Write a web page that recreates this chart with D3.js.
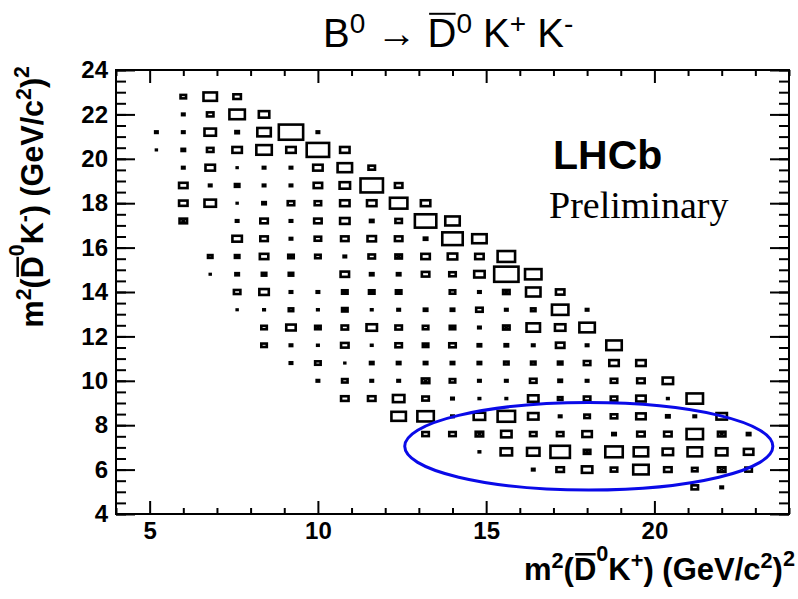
<!DOCTYPE html>
<html>
<head>
<meta charset="utf-8">
<script src="https://cdn.jsdelivr.net/npm/d3@7"></script>
<style>
  html, body { margin: 0; padding: 0; background: #fff; }
  svg { display: block; }
</style>
</head>
<body>
<div id="chart"></div>
<script>
// bin width of the 2D histogram (GeV^2/c^4), both axes
const binW = 0.8;

// [m2(D0bar K+), m2(D0bar K-), weighted content] at bin centres
// negative contents are drawn with a cross
const cells = [
  [6.0, 22.8, 0.41], [6.8, 22.8, 2.45], [7.6, 22.8, 0.76],
  [6.0, 22.0, 0.08], [6.8, 22.0, 0.57], [7.6, 22.0, 3.23], [8.4, 22.0, 1.48],
  [5.2, 21.2, 0.08], [6.0, 21.2, 0.08], [6.8, 21.2, 1.78], [7.6, 21.2, -0.16], [8.4, 21.2, 2.45], [9.2, 21.2, 8.00], [10.0, 21.2, 0.08],
  [5.2, 20.4, 0.01], [6.0, 20.4, -0.16], [6.8, 20.4, 0.57], [7.6, 20.4, 1.21], [8.4, 20.4, 3.23], [9.2, 20.4, 1.21], [10.0, 20.4, 6.80], [10.8, 20.4, 1.21],
  [6.0, 19.6, 0.08], [6.8, 19.6, 1.21], [7.6, 19.6, 0.01], [8.4, 19.6, 0.08], [9.2, 19.6, 0.08], [10.0, 19.6, 1.21], [10.8, 19.6, 2.83], [11.6, 19.6, 0.57],
  [6.0, 18.8, 0.97], [6.8, 18.8, 0.08], [7.6, 18.8, -0.27], [8.4, 18.8, 0.08], [9.2, 18.8, 0.08], [10.0, 18.8, 0.97], [10.8, 18.8, 1.48], [11.6, 18.8, 6.80], [12.4, 18.8, 0.76],
  [6.0, 18.0, 0.97], [6.8, 18.0, 1.78], [7.6, 18.0, 0.01], [8.4, 18.0, 0.16], [9.2, 18.0, 0.57], [10.0, 18.0, 0.57], [10.8, 18.0, 1.21], [11.6, 18.0, 1.21], [12.4, 18.0, 4.12], [13.2, 18.0, 1.21],
  [6.0, 17.2, -0.76], [7.6, 17.2, 0.08], [8.4, 17.2, 0.76], [9.2, 17.2, 0.08], [10.0, 17.2, 0.76], [10.8, 17.2, 1.21], [11.6, 17.2, -0.16], [12.4, 17.2, 0.57], [13.2, 17.2, 6.21], [14.0, 17.2, 2.83],
  [7.6, 16.4, 1.21], [8.4, 16.4, 0.76], [9.2, 16.4, 0.08], [10.0, 16.4, 0.57], [10.8, 16.4, 0.76], [11.6, 16.4, 0.97], [12.4, 16.4, 0.76], [13.2, 16.4, -0.16], [14.0, 16.4, 5.65], [14.8, 16.4, 2.83],
  [6.8, 15.6, 0.27], [7.6, 15.6, -0.27], [8.4, 15.6, 0.97], [9.2, 15.6, -0.41], [10.0, 15.6, 0.41], [10.8, 15.6, 0.08], [11.6, 15.6, 0.57], [12.4, 15.6, -0.57], [13.2, 15.6, 0.97], [14.0, 15.6, 1.21], [14.8, 15.6, 0.97], [15.6, 15.6, 4.12],
  [6.8, 14.8, 0.01], [7.6, 14.8, 0.16], [8.4, 14.8, -0.27], [9.2, 14.8, -0.27], [10.8, 14.8, 0.97], [11.6, 14.8, 0.16], [12.4, 14.8, 0.16], [13.2, 14.8, 0.76], [14.0, 14.8, 0.57], [14.8, 14.8, 1.48], [15.6, 14.8, 8.00], [16.4, 14.8, 3.66],
  [7.6, 14.0, 0.57], [8.4, 14.0, 1.21], [9.2, 14.0, 0.08], [10.0, 14.0, 0.08], [10.8, 14.0, -0.41], [11.6, 14.0, -0.41], [12.4, 14.0, -0.41], [14.0, 14.0, 0.41], [14.8, 14.0, 0.08], [15.6, 14.0, -0.57], [16.4, 14.0, 2.83], [17.2, 14.0, 0.97],
  [7.6, 13.2, 0.01], [8.4, 13.2, 0.03], [9.2, 13.2, 0.27], [10.0, 13.2, 0.03], [10.8, 13.2, -0.41], [11.6, 13.2, 0.03], [12.4, 13.2, 0.08], [13.2, 13.2, 0.16], [14.0, 13.2, 0.16], [14.8, 13.2, 0.57], [15.6, 13.2, 0.08], [16.4, 13.2, 0.27], [17.2, 13.2, 3.66], [18.0, 13.2, 0.08],
  [8.4, 12.4, 0.41], [9.2, 12.4, 1.21], [10.0, 12.4, -0.41], [10.8, 12.4, 0.57], [11.6, 12.4, 1.48], [12.4, 12.4, 0.57], [13.2, 12.4, 0.41], [14.0, 12.4, -0.41], [14.8, 12.4, 0.08], [15.6, 12.4, -0.57], [16.4, 12.4, 2.45], [17.2, 12.4, 1.48], [18.0, 12.4, 3.23],
  [8.4, 11.6, 0.41], [9.2, 11.6, 0.08], [10.0, 11.6, 0.03], [10.8, 11.6, 0.76], [11.6, 11.6, 0.03], [12.4, 11.6, 0.57], [13.2, 11.6, -0.41], [14.0, 11.6, 0.57], [14.8, 11.6, 0.16], [15.6, 11.6, 0.16], [16.4, 11.6, 0.08], [17.2, 11.6, 0.97], [18.0, 11.6, 0.08], [18.8, 11.6, 3.23],
  [9.2, 10.8, 0.08], [10.0, 10.8, 0.41], [10.8, 10.8, 0.01], [11.6, 10.8, 0.16], [12.4, 10.8, 0.16], [13.2, 10.8, 0.16], [14.0, 10.8, 0.16], [14.8, 10.8, 0.16], [15.6, 10.8, 0.27], [16.4, 10.8, 0.27], [17.2, 10.8, -0.27], [18.0, 10.8, 0.57], [18.8, 10.8, 1.21], [19.6, 10.8, 1.21],
  [10.0, 10.0, 0.08], [10.8, 10.0, 0.41], [11.6, 10.0, 0.08], [12.4, 10.0, 0.08], [13.2, 10.0, -0.76], [14.0, 10.0, 0.41], [14.8, 10.0, 0.08], [15.6, 10.0, 0.08], [16.4, 10.0, 0.57], [17.2, 10.0, 0.16], [18.0, 10.0, 0.08], [18.8, 10.0, 0.57], [19.6, 10.0, 0.76], [20.4, 10.0, 1.48],
  [10.8, 9.2, 0.76], [11.6, 9.2, 0.76], [12.4, 9.2, 1.78], [13.2, 9.2, 0.57], [14.0, 9.2, 0.08], [14.8, 9.2, 0.03], [15.6, 9.2, 0.03], [16.4, 9.2, 1.48], [17.2, 9.2, 0.27], [18.0, 9.2, 0.57], [18.8, 9.2, 0.57], [19.6, 9.2, 1.21], [20.4, 9.2, 0.03], [21.2, 9.2, 3.66],
  [12.4, 8.4, 2.83], [13.2, 8.4, 3.66], [14.0, 8.4, 0.08], [14.8, 8.4, 1.78], [15.6, 8.4, 4.12], [16.4, 8.4, 1.48], [17.2, 8.4, 0.08], [18.0, 8.4, 0.41], [18.8, 8.4, 0.57], [19.6, 8.4, 1.21], [20.4, 8.4, 0.16], [21.2, 8.4, 0.08], [22.0, 8.4, 1.48],
  [13.2, 7.6, 0.57], [14.0, 7.6, 0.57], [14.8, 7.6, -0.76], [15.6, 7.6, 1.48], [16.4, 7.6, 0.57], [17.2, 7.6, 0.57], [18.0, 7.6, 1.21], [18.8, 7.6, -0.16], [19.6, 7.6, 0.76], [20.4, 7.6, 0.76], [21.2, 7.6, 3.66], [22.0, 7.6, -0.76], [22.8, 7.6, -0.16],
  [14.8, 6.8, 0.03], [15.6, 6.8, 1.78], [16.4, 6.8, 2.10], [17.2, 6.8, 5.11], [18.0, 6.8, -0.57], [18.8, 6.8, 4.12], [19.6, 6.8, 2.83], [20.4, 6.8, 1.48], [21.2, 6.8, 2.83], [22.0, 6.8, 1.78], [22.8, 6.8, 1.21],
  [16.4, 6.0, 0.08], [17.2, 6.0, 0.76], [18.0, 6.0, 1.48], [18.8, 6.0, 0.57], [19.6, 6.0, 3.23], [20.4, 6.0, 0.76], [21.2, 6.0, 0.41], [22.0, 6.0, -0.76], [22.8, 6.0, 0.57],
  [21.2, 5.2, 0.57], [22.0, 5.2, 0.08]
];

const xDomain = [4, 24];
const yDomain = [4, 24];
const xMajor = [5, 10, 15, 20];
const xMinor = d3.range(4, 25, 1);
const yMajor = [4, 6, 8, 10, 12, 14, 16, 18, 20, 22, 24];
const yMinor = d3.range(4, 24.01, 0.5);

// highlighted region (data units)
const ellipse = { cx: 18.05, cy: 7.05, rx: 5.47, ry: 1.97 };

const width = 798, height = 599;
const margin = { top: 70, right: 9, bottom: 85, left: 116 };

const svg = d3.select("#chart").append("svg")
  .attr("width", width)
  .attr("height", height)
  .style("font-family", "'Liberation Sans', Arial, Helvetica, sans-serif");

const x = d3.scaleLinear().domain(xDomain).range([margin.left, width - margin.right]);
const y = d3.scaleLinear().domain(yDomain).range([height - margin.bottom, margin.top]);

// --- boxes
const sw = 2.6;
const cellW = x(xDomain[0] + binW) - x(xDomain[0]);
const cellH = y(yDomain[0]) - y(yDomain[0] + binW);
const vmax = d3.max(cells, d => Math.abs(d[2]));
const frac = d3.scaleSqrt().domain([0, vmax]).range([0, 1]);

const boxW = d => Math.max(0.6, frac(Math.abs(d[2])) * (cellW - sw));
const boxH = d => Math.max(0.4, frac(Math.abs(d[2])) * (cellH - sw));

const gBox = svg.append("g");
gBox.selectAll("rect").data(cells).join("rect")
  .attr("x", d => x(d[0]) - boxW(d) / 2)
  .attr("y", d => y(d[1]) - boxH(d) / 2)
  .attr("width", boxW)
  .attr("height", boxH)
  .attr("fill", "none")
  .attr("stroke", "#000")
  .attr("stroke-width", sw);

gBox.selectAll("path.neg").data(cells.filter(d => d[2] < 0)).join("path")
  .attr("class", "neg")
  .attr("d", d => {
    const cx = x(d[0]), cy = y(d[1]), w = boxW(d) / 2, h = boxH(d) / 2;
    return `M${cx - w},${cy - h}L${cx + w},${cy + h}M${cx - w},${cy + h}L${cx + w},${cy - h}`;
  })
  .attr("stroke", "#000")
  .attr("stroke-width", 1.6);

// --- ellipse
svg.append("ellipse")
  .attr("cx", x(ellipse.cx))
  .attr("cy", y(ellipse.cy))
  .attr("rx", x(ellipse.cx + ellipse.rx) - x(ellipse.cx))
  .attr("ry", y(ellipse.cy) - y(ellipse.cy + ellipse.ry))
  .attr("fill", "none")
  .attr("stroke", "#0a0ae8")
  .attr("stroke-width", 3);

// --- axes
const plotH = height - margin.bottom - margin.top;
const plotW = width - margin.right - margin.left;

function styleAxis(g) {
  g.select(".domain").remove();
  g.selectAll("line").attr("stroke", "#000").attr("stroke-width", 2);
  g.selectAll("text").attr("font-size", 24).attr("font-weight", "bold").attr("fill", "#000");
}

svg.append("g").attr("transform", `translate(0,${y(yDomain[0])})`)
  .call(d3.axisBottom(x).tickValues(xMinor.filter(v => !xMajor.includes(v))).tickSize(-6).tickFormat(""))
  .call(styleAxis);
svg.append("g").attr("transform", `translate(0,${y(yDomain[0])})`)
  .call(d3.axisBottom(x).tickValues(xMajor).tickSize(-13).tickPadding(8).tickFormat(d3.format("d")))
  .call(styleAxis);
svg.append("g").attr("transform", `translate(0,${y(yDomain[1])})`)
  .call(d3.axisTop(x).tickValues(xMinor.filter(v => !xMajor.includes(v))).tickSize(-6).tickFormat(""))
  .call(styleAxis);
svg.append("g").attr("transform", `translate(0,${y(yDomain[1])})`)
  .call(d3.axisTop(x).tickValues(xMajor).tickSize(-13).tickFormat(""))
  .call(styleAxis);

svg.append("g").attr("transform", `translate(${x(xDomain[0])},0)`)
  .call(d3.axisLeft(y).tickValues(yMinor).tickSize(-10).tickFormat(""))
  .call(styleAxis);
svg.append("g").attr("transform", `translate(${x(xDomain[0])},0)`)
  .call(d3.axisLeft(y).tickValues(yMajor).tickSize(-19).tickPadding(8).tickFormat(d3.format("d")))
  .call(styleAxis);
svg.append("g").attr("transform", `translate(${x(xDomain[1])},0)`)
  .call(d3.axisRight(y).tickValues(yMinor).tickSize(-10).tickFormat(""))
  .call(styleAxis);
svg.append("g").attr("transform", `translate(${x(xDomain[1])},0)`)
  .call(d3.axisRight(y).tickValues(yMajor).tickSize(-19).tickFormat(""))
  .call(styleAxis);

// frame
svg.append("rect")
  .attr("x", x(xDomain[0])).attr("y", y(yDomain[1]))
  .attr("width", plotW).attr("height", plotH)
  .attr("fill", "none").attr("stroke", "#000").attr("stroke-width", 2);

// --- rich text helper (superscripts + overline)
function richText(g, parts, size, opts = {}) {
  const text = g.append("text")
    .attr("font-size", size)
    .attr("font-weight", opts.bold ? "bold" : "normal")
    .attr("text-anchor", opts.anchor || "start")
    .attr("fill", "#000");
  let shift = 0, idx = 0;
  const bars = [];
  parts.forEach(p => {
    const target = p.sup ? -size * (p.up || 0.4) : 0;
    text.append("tspan")
      .attr("font-size", p.sup ? size * 0.7 : size)
      .attr("dy", target - shift)
      .text(p.t);
    shift = target;
    if (p.bar) bars.push([idx, idx + p.t.length - 1]);
    idx += p.t.length;
  });
  const node = text.node();
  bars.forEach(([a, b]) => {
    const e1 = node.getExtentOfChar(a), e2 = node.getExtentOfChar(b);
    const base = node.getStartPositionOfChar(a).y;
    const yb = base - size * 0.83;
    g.append("line")
      .attr("x1", e1.x + size * 0.04).attr("x2", e2.x + e2.width - size * 0.02)
      .attr("y1", yb).attr("y2", yb)
      .attr("stroke", "#000").attr("stroke-width", opts.bold ? 2.5 : 2);
  });
  return text;
}

// title
richText(svg.append("g").attr("transform", "translate(323,47)"), [
  { t: "B" }, { t: "0", sup: true, up: 0.36 }, { t: " \u2192 " },
  { t: "D", bar: true }, { t: "0", sup: true, up: 0.36 }, { t: " K" },
  { t: "+", sup: true, up: 0.36 }, { t: " K" }, { t: "-", sup: true, up: 0.36 }
], 40);

// x title
const xTitle = [
  { t: "m" }, { t: "2", sup: true, up: 0.38 }, { t: "(" }, { t: "D", bar: true },
  { t: "0", sup: true, up: 0.62 }, { t: "K" }, { t: "+", sup: true, up: 0.4 }, { t: ") (GeV/c" },
  { t: "2", sup: true, up: 0.4 }, { t: ")" }, { t: "2", sup: true, up: 0.45 }
];
richText(svg.append("g").attr("transform", "translate(795,580)"), xTitle, 31, { bold: true, anchor: "end" });

// y title
const yTitle = [
  { t: "m" }, { t: "2", sup: true, up: 0.38 }, { t: "(" }, { t: "D", bar: true },
  { t: "0", sup: true, up: 0.62 }, { t: "K" }, { t: "-", sup: true, up: 0.4 }, { t: ") (GeV/c" },
  { t: "2", sup: true, up: 0.4 }, { t: ")" }, { t: "2", sup: true, up: 0.45 }
];
richText(svg.append("g").attr("transform", "translate(43,66) rotate(-90)"), yTitle, 30.5, { bold: true, anchor: "end" });

// labels
svg.append("text")
  .attr("x", 553).attr("y", 169)
  .attr("font-size", 41).attr("font-weight", "bold")
  .text("LHCb");
svg.append("text")
  .attr("x", 549).attr("y", 218)
  .attr("font-size", 38)
  .style("font-family", "'Liberation Serif', 'Times New Roman', serif")
  .text("Preliminary");
</script>
</body>
</html>
